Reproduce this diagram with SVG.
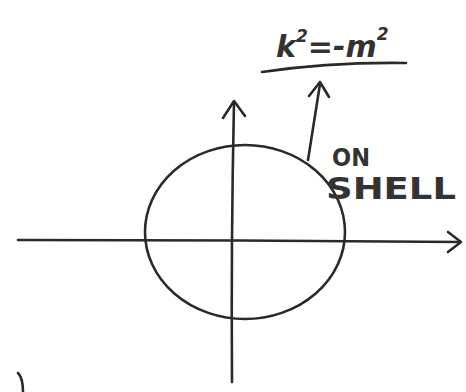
<svg xmlns="http://www.w3.org/2000/svg" width="466" height="392" viewBox="0 0 466 392">
<style>
.ln{fill:none;stroke:#2a2a2a;stroke-width:2.6;stroke-linecap:round;stroke-linejoin:round}
.tx{font-family:"DejaVu Sans",sans-serif;fill:#333;font-weight:bold}
</style>
<rect width="466" height="392" fill="#fff"/>
<g id="connectors">
<path class="ln" d="M18,240 Q240,240 460,242"/>
<path class="ln" d="M448,232 L461,242 L448,252"/>
<path class="ln" d="M232,382 Q231,240 234,102"/>
<path class="ln" d="M223,118 L234,101 L245,116"/>
<path class="ln" d="M308,160 L320,84"/>
<path class="ln" d="M309,96 L320,82 L329,97"/>
<path class="ln" d="M262,72 Q330,62 406,63"/>
<path class="ln" d="M18,373 Q23,378 23,392"/>
</g>
<g id="circle">
<ellipse class="ln" cx="245" cy="232" rx="100" ry="87"/>
</g>
<g id="label-mass">
<text class="tx" x="276" y="57" font-size="30" font-style="italic">k<tspan font-size="17" dy="-15">2</tspan><tspan dy="15">=-m</tspan><tspan font-size="17" dy="-17">2</tspan></text>
</g>
<g id="label-shell">
<text class="tx" x="332" y="166" font-size="24" textLength="38" lengthAdjust="spacingAndGlyphs">ON</text>
<text class="tx" x="326" y="199" font-size="31" textLength="130" lengthAdjust="spacingAndGlyphs">SHELL</text>
</g>
</svg>
